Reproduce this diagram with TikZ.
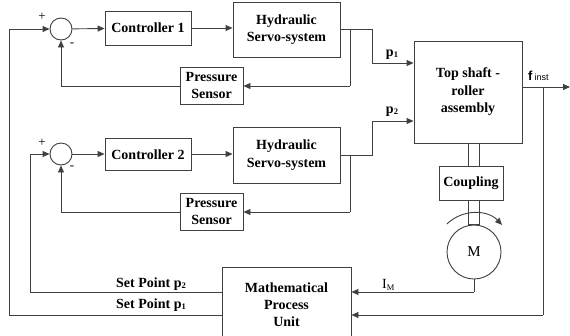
\documentclass[tikz,border=0pt]{standalone}
\usepackage{fontspec}
\setmainfont{Liberation Serif}
\newfontfamily\lsans{Liberation Sans}
\usetikzlibrary{arrows.meta}
\definecolor{linec}{gray}{0.25}
\tikzset{
  blk/.style={draw=linec, line width=0.9pt, fill=white, align=center, inner sep=0pt,
    font=\bfseries\fontsize{14}{17.5}\selectfont},
  sumc/.style={draw=linec, line width=0.9pt, circle, minimum size=22pt, inner sep=0pt},
  ln/.style={draw=linec, line width=0.9pt},
  arr/.style={ln, -{Triangle[length=7pt,width=6pt]}},
  lbl/.style={inner sep=0pt, font=\bfseries\fontsize{14}{15}\selectfont},
  sgn/.style={inner sep=0pt, font=\fontsize{13}{13}\selectfont}
}
\newcommand{\psub}[1]{\textbf{p}\raisebox{-1pt}{\fontsize{8.5}{8.5}\selectfont #1}}
\begin{document}
\begin{tikzpicture}[x=1pt,y=-1pt]
\clip (0,0) rectangle (570,335);
\fill[white] (0,0) rectangle (570,335);
% row 1
\node[sumc] (sum1) at (61,29) {};
\node[blk, minimum width=86pt, minimum height=34pt] (c1) at (148,28) {Controller 1};
\node[blk, minimum width=107pt, minimum height=55pt] (s1) at (286.5,29.5) {Hydraulic\\Servo-system};
\node[blk, minimum width=63pt, minimum height=37pt] (ps1) at (211.5,85.5) {Pressure\\Sensor};
% row 2
\node[sumc] (sum2) at (61,154) {};
\node[blk, minimum width=86pt, minimum height=32pt] (c2) at (148,154.5) {Controller 2};
\node[blk, minimum width=107pt, minimum height=56pt] (s2) at (286.5,155) {Hydraulic\\Servo-system};
\node[blk, minimum width=63pt, minimum height=37pt] (ps2) at (211.5,211.5) {Pressure\\Sensor};
% right part
\node[blk, minimum width=108pt, minimum height=102pt] (ts) at (468,92) {Top shaft -\\roller\\assembly};
\node[blk, minimum width=64pt, minimum height=34pt] (cp) at (471,183) {Coupling};
\node[blk, circle, minimum size=54pt, font=\fontsize{15}{15}\selectfont] (mot) at (474,252) {M};
% math unit (bottom edge outside the picture)
\node[blk, minimum width=129pt, minimum height=80pt, anchor=north] (mpu) at (286.5,267) {};
\node[lbl, align=center, font=\bfseries\fontsize{14}{17}\selectfont] (mput) at (286.5,305) {Mathematical\\Process\\Unit};
% signs
\node[sgn] (p1s) at (42,17) {+};
\node[sgn] (m1s) at (72,45) {-};
\node[sgn] (p2s) at (42,143) {+};
\node[sgn] (m2s) at (72,168) {-};
% coordinates
\coordinate (fb1a) at (9,315);
\coordinate (fb1b) at (9,29);
\coordinate (fb2a) at (30,292);
\coordinate (fb2b) at (30,154);
\coordinate (o1a) at (372,29);
\coordinate (o1b) at (372,63);
\coordinate (b1a) at (350,29);
\coordinate (b1b) at (350,86);
\coordinate (o2a) at (372,155);
\coordinate (o2b) at (372,121);
\coordinate (b2a) at (350,155);
\coordinate (b2b) at (350,212);
\coordinate (fout) at (570,87);
\coordinate (fbra) at (543,87);
\coordinate (fbrb) at (543,315);
\coordinate (imc) at (474,292);
% row 1 connections
\draw[arr] (sum1) -- (c1);
\draw[arr] (c1) -- (s1.west |- c1);
\draw[ln] (s1.east |- o1a) -- (o1a) -- (o1b);
\draw[arr] (o1b) -- (ts.west |- o1b);
\draw[ln] (b1a) -- (b1b);
\draw[arr] (b1b) -- (ps1.east |- b1b);
\draw[arr] (ps1.west |- b1b) -| (sum1.south);
% row 2 connections
\draw[arr] (sum2) -- (c2.west |- sum2);
\draw[arr] (c2.east |- sum2) -- (s2.west |- sum2);
\draw[ln] (s2.east |- o2a) -- (o2a) -- (o2b);
\draw[arr] (o2b) -- (ts.west |- o2b);
\draw[ln] (b2a) -- (b2b);
\draw[arr] (b2b) -- (ps2.east |- b2b);
\draw[arr] (ps2.west |- b2b) -| (sum2.south);
% set points
\draw[arr] (mpu.west |- fb1a) -- (fb1a) -- (fb1b) -- (sum1.west);
\draw[arr] (mpu.west |- fb2a) -- (fb2a) -- (fb2b) -- (sum2.west);
\node[lbl, anchor=base east] (sp2) at (186,287) {Set Point \psub{2}};
\node[lbl, anchor=base east] (sp1) at (186,308) {Set Point \psub{1}};
% pressures
\node[lbl] (p1l) at (392,55) {\psub{1}};
\node[lbl] (p2l) at (392,112) {\psub{2}};
% output
\draw[arr] (ts.east |- fout) -- (fout);
\draw[ln] (fbra) -- (fbrb);
\draw[arr] (fbrb) -- (mpu.east |- fbrb);
\node[inner sep=0pt, anchor=base west] (fl) at (528,80) {\lsans\bfseries\fontsize{13}{13}\selectfont f\,{\mdseries\fontsize{9}{9}\selectfont inst}};
% motor current
\draw[ln] (mot.south) -- (imc);
\draw[arr] (imc) -- (mpu.east |- imc);
\node[inner sep=0pt, anchor=base west] (iml) at (382,288) {\fontsize{14}{14}\selectfont I\raisebox{-2pt}{\fontsize{8.5}{8.5}\selectfont M}};
% shaft
\draw[ln] (468,143) -- (468,166);
\draw[ln] (479,143) -- (479,166);
\draw[ln] (468,200) -- (468,224) -- (479,224) -- (479,200);
% rotation arrow
\draw[ln, -{Triangle[length=7pt,width=6pt]}] (mot.center) ++(-134:39) arc[start angle=-134, end angle=-44, radius=39];
\end{tikzpicture}
\end{document}
